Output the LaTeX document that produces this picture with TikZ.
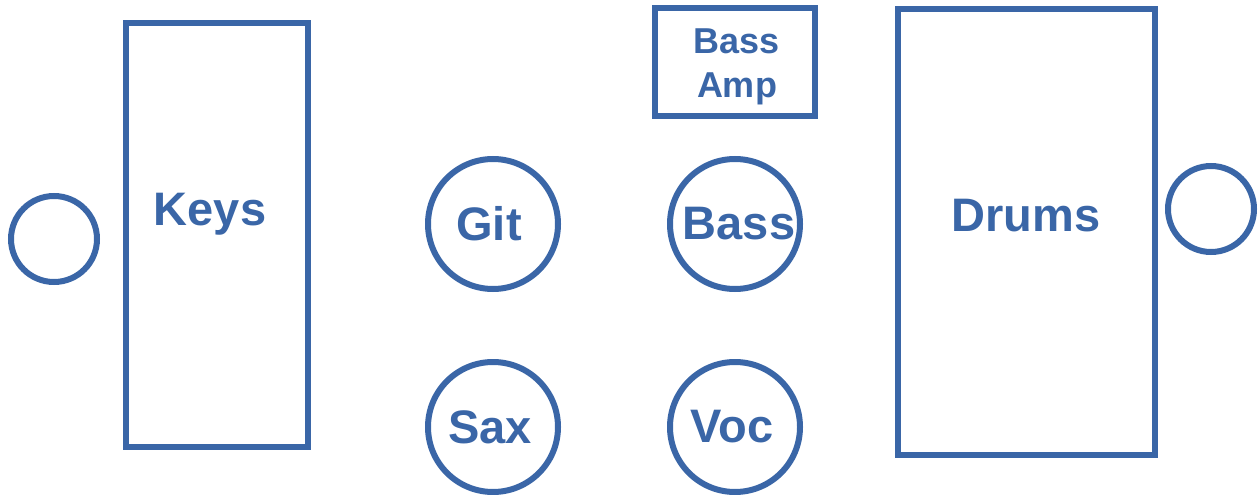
\documentclass[tikz,border=0pt]{standalone}
\usepackage{fontspec}
\setmainfont{Liberation Sans}
\definecolor{stageblue}{HTML}{3A66A7}
\begin{document}
\begin{tikzpicture}[x=1pt,y=-1pt,
  shape line/.style={draw=stageblue,line width=6pt},
  bigtext/.style={text=stageblue,font=\fontsize{47}{50}\selectfont\bfseries},
  smalltext/.style={text=stageblue,font=\fontsize{36}{44}\selectfont\bfseries,align=center},
  mon/.style={shape line,circle,minimum size=86pt,inner sep=0pt},
  player/.style={shape line,circle,minimum size=130pt,inner sep=0pt}]
\useasboundingbox (0,0) rectangle (1259,495);
\node[mon] (monl) at (54,239) {};
\node[mon] (monr) at (1211,209) {};
\draw[shape line] (126,23) rectangle (308,447);
\node[bigtext] (keys) at (210,214) {Keys};
\draw[shape line] (898,9) rectangle (1155,455);
\node[bigtext] (drums) at (1026,216) {Drums};
\draw[shape line] (655,8) rectangle (815,116);
\node[smalltext] (amp) at (737,67) {Bass\\Amp};
\node[player] (git) at (493,224) {};
\node[bigtext] (gitl) at (489,224) {Git};
\node[player] (bass) at (735,224) {};
\node[bigtext] (bassl) at (739,224) {Bass};
\node[player] (sax) at (493,427) {};
\node[bigtext] (saxl) at (490,427) {Sax};
\node[player] (voc) at (735,427) {};
\node[bigtext] (vocl) at (732,427) {Voc};
\end{tikzpicture}
\end{document}
